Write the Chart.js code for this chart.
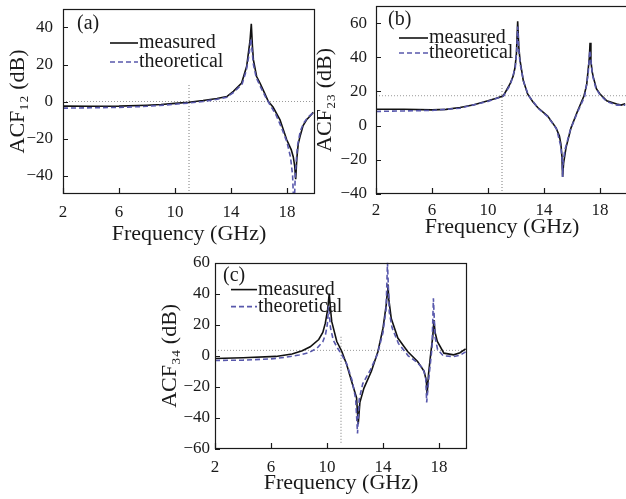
<!DOCTYPE html>
<html>
<head>
<meta charset="utf-8">
<script src="https://cdn.jsdelivr.net/npm/chart.js@4.4.1/dist/chart.umd.min.js"></script>
<style>
  html, body { margin: 0; padding: 0; background: #fff; overflow: hidden; }
  #wrap { position: relative; width: 626px; height: 499px; overflow: hidden; }
  #wrap canvas { position: absolute; }
</style>
</head>
<body>
<div id="wrap">
  <canvas id="chart-a" width="320" height="250" style="left:0;top:0;width:320px;height:250px"></canvas>
  <canvas id="chart-b" width="320" height="250" style="left:310px;top:0;width:320px;height:250px"></canvas>
  <canvas id="chart-c" width="325" height="249" style="left:155px;top:250px;width:325px;height:249px"></canvas>
</div>
<script>
/* ACF 曲线：三个面板 (a)(b)(c)，实测 vs 理论 */

var xTicks = [2, 6, 10, 14, 18];
var aYTicks = [-40, -20, 0, 20, 40];
var bYTicks = [-40, -20, 0, 20, 40, 60];
var cYTicks = [-60, -40, -20, 0, 20, 40, 60];
var seriesNames = ['measured', 'theoretical'];

// (a) ACF12
var aMeasF  = [2, 4, 6, 8, 9, 10, 11, 12, 13, 13.7, 14.17, 14.76, 15.12, 15.36, 15.45, 15.53, 15.6, 15.83, 16.07, 16.4, 16.67, 17.0, 17.5, 17.98, 18.3, 18.45, 18.55, 18.62, 18.7, 18.8, 18.93, 19.15, 19.4, 19.65, 19.88];
var aMeasDb = [-2.5, -2.6, -2.5, -2.0, -1.6, -1.0, -0.4, 0.5, 1.6, 2.7, 5.5, 10, 19, 33, 42, 30, 22.5, 13.5, 10, 4.5, 0, -3, -9.9, -20.7, -26, -30, -35, -42, -31, -23, -18.9, -13, -9.9, -7.8, -5.9];
var aTheoF  = [2, 4, 6, 8, 10, 11, 12, 13, 13.7, 14.2, 14.8, 15.1, 15.3, 15.42, 15.5, 15.6, 15.8, 16.1, 16.5, 16.8, 17.2, 17.6, 18.0, 18.25, 18.4, 18.5, 18.6, 18.75, 18.95, 19.2, 19.5, 19.88];
var aTheoDb = [-3.6, -3.4, -3.2, -2.6, -1.5, -0.8, 0, 1.2, 2.3, 5, 9.5, 17, 26, 34, 28, 20, 13, 8, 2, -2, -7, -14, -22, -30, -40, -60, -38, -24, -16, -11.5, -8.5, -6];
var aLevelF = [2, 20],  aLevelDb = [0, 0];
var aGuideF = [11, 11], aGuideDb = [-50, 10];

// (b) ACF23
var bMeasF  = [2, 4, 6, 7, 8, 9, 10, 10.6, 11.1, 11.57, 11.8, 11.93, 12.03, 12.12, 12.2, 12.29, 12.52, 12.83, 13.2, 13.55, 14.26, 14.86, 15.1, 15.21, 15.28, 15.33, 15.4, 15.57, 15.93, 16.4, 16.86, 17.05, 17.17, 17.24, 17.29, 17.35, 17.43, 17.52, 17.75, 18.0, 18.48, 19.19, 19.5, 19.8];
var bMeasDb = [9.6, 9.6, 9.2, 9.5, 10.6, 12.2, 14.5, 16, 17.5, 24.4, 29, 34, 42, 61, 46, 38, 26.4, 18.5, 14, 10.6, 5.6, -1.3, -6, -11, -18, -30, -22, -13, -1.3, 8.6, 17.5, 24, 34, 40, 48.5, 38, 32, 28.4, 21.5, 18.5, 14.5, 12.6, 12.0, 12.8];
var bTheoF  = [2, 4, 6, 8, 10, 11.1, 11.6, 11.95, 12.05, 12.12, 12.2, 12.3, 12.55, 12.9, 13.6, 14.3, 14.9, 15.2, 15.3, 15.33, 15.37, 15.5, 15.9, 16.4, 16.9, 17.15, 17.27, 17.33, 17.45, 17.7, 18.0, 18.5, 19.2, 19.8];
var bTheoDb = [8.3, 8.6, 8.9, 10.2, 14.2, 17.3, 24, 34, 44, 58, 44, 36, 25.5, 17.5, 10, 5, -2, -12, -20, -30, -21, -14, -2, 8, 17, 30, 44, 40, 30, 22, 18, 14, 12, 12];
var bLevelF = [2, 20],  bLevelDb = [17.5, 17.5];
var bGuideF = [11, 11], bGuideDb = [-40, 25];

// (c) ACF34
var cMeasF  = [2, 4, 6.35, 7.5, 8.23, 8.8, 9.41, 9.7, 9.88, 10.05, 10.16, 10.25, 10.34, 10.7, 11.06, 11.41, 11.76, 12.11, 12.23, 12.35, 12.64, 13.17, 13.64, 14.0, 14.23, 14.3, 14.35, 14.42, 14.59, 15.06, 15.76, 16.47, 16.94, 17.1, 17.15, 17.25, 17.4, 17.55, 17.64, 17.72, 17.88, 18.35, 19.05, 19.5, 19.9];
var cMeasDb = [-1.7, -1.3, -0.4, 1.2, 3.2, 5.8, 10.5, 15, 21, 30, 40, 30, 22, 9.2, 2.8, -5.8, -16.5, -27, -44, -30, -20.8, -10, 2.8, 17.8, 32.8, 40, 46, 36, 24, 11.4, 2.8, -3.7, -10, -16.5, -25, -12, 0.6, 12, 23, 15, 9.2, 1.7, 0.6, 2.0, 4.5];
var cTheoF  = [2, 4, 6, 7, 8, 8.7, 9.3, 9.7, 9.9, 10.02, 10.12, 10.25, 10.45, 10.75, 11.0, 11.4, 11.8, 12.05, 12.18, 12.3, 12.55, 13.1, 13.6, 14.0, 14.22, 14.32, 14.45, 14.65, 15.1, 15.8, 16.4, 16.85, 17.05, 17.12, 17.3, 17.5, 17.6, 17.72, 17.9, 18.3, 19.0, 19.5, 19.9];
var cTheoDb = [-3, -2.8, -2, -1, 0.5, 2, 5, 9, 14, 20, 32, 18, 10, 5, 1.5, -5, -16, -28, -50, -28, -18, -9, 1, 15, 30, 60, 28, 18, 8, 0, -4, -8, -14, -30, -12, 5, 37, 12, 4, 0, -0.5, 0.3, 2.5];
var cLevelF = [2, 20],  cLevelDb = [3.5, 3.5];
var cGuideF = [11, 11], cGuideDb = [-56, 13];

var SERIF = '"Liberation Serif", "Times New Roman", serif';

function pairs(xs, ys) {
  return xs.map(function (x, i) { return { x: x, y: ys[i] }; });
}

function minusFmt(v) {
  return v < 0 ? '\u2212' + Math.abs(v) : String(v);
}

// 边框、内向刻度、面板标号和图例（画在绘图区内）
var panelDeco = {
  id: 'panelDeco',
  afterDatasetsDraw: function (chart, args, opts) {
    var ctx = chart.ctx, a = chart.chartArea;
    var xs = chart.scales.x, ys = chart.scales.y;
    ctx.save();
    ctx.strokeStyle = '#1a1a1a';
    ctx.lineWidth = 1.2;
    ctx.setLineDash([]);
    ctx.beginPath();
    xs.ticks.forEach(function (t) {
      var px = Math.round(xs.getPixelForValue(t.value)) + 0.5;
      ctx.moveTo(px, a.bottom);
      ctx.lineTo(px, a.bottom - 6);
    });
    ys.ticks.forEach(function (t) {
      var py = Math.round(ys.getPixelForValue(t.value)) + 0.5;
      ctx.moveTo(a.left, py);
      ctx.lineTo(a.left + 5, py);
    });
    ctx.stroke();
    ctx.strokeRect(Math.round(a.left) + 0.5, Math.round(a.top) + 0.5,
      Math.round(a.right - a.left) - 1, Math.round(a.bottom - a.top) - 1);

    ctx.fillStyle = '#1a1a1a';
    ctx.font = '20px ' + SERIF;
    ctx.textBaseline = 'middle';
    ctx.textAlign = 'left';
    ctx.fillText(opts.label, a.left + opts.labelPos[0], a.top + opts.labelPos[1]);

    chart.data.datasets.forEach(function (ds) {
      if (ds.legendRow === undefined) return;
      var y = a.top + opts.rows[ds.legendRow];
      ctx.strokeStyle = ds.borderColor;
      ctx.lineWidth = ds.borderWidth;
      ctx.setLineDash(ds.borderDash || []);
      ctx.beginPath();
      ctx.moveTo(a.left + opts.sample[0], y);
      ctx.lineTo(a.left + opts.sample[1], y);
      ctx.stroke();
      ctx.fillText(ds.label, a.left + opts.sample[1] + 1, y);
    });
    ctx.restore();
  }
};

function makePanel(id, p) {
  var datasets = [
    { label: seriesNames[0], data: pairs(p.measF, p.measDb), borderColor: '#111111', borderWidth: 1.6, order: 1, legendRow: 0 },
    { label: seriesNames[1], data: pairs(p.theoF, p.theoDb), borderColor: '#5858ac', borderWidth: 1.6, borderDash: [5, 3], order: 0, legendRow: 1 },
    { label: 'level', data: pairs(p.levelF, p.levelDb), borderColor: '#9a9a9a', borderWidth: 1, borderDash: [1, 2], order: 2 },
    { label: 'guide', data: pairs(p.guideF, p.guideDb), borderColor: '#7a7a7a', borderWidth: 1, borderDash: [1, 2], order: 2 }
  ];
  datasets.forEach(function (d) { d.pointRadius = 0; d.tension = 0; d.fill = false; });

  return new Chart(document.getElementById(id), {
    type: 'line',
    data: { datasets: datasets },
    options: {
      responsive: false,
      animation: false,
      events: [],
      layout: { padding: { left: 0, top: p.padTop, right: p.padRight, bottom: 0 } },
      plugins: {
        legend: { display: false },
        tooltip: { enabled: false },
        panelDeco: p.deco
      },
      scales: {
        x: {
          type: 'linear', min: 2, max: 20,
          afterBuildTicks: function (s) { s.ticks = xTicks.map(function (v) { return { value: v }; }); },
          afterFit: function (s) { s.height = p.xAxisH; s.paddingLeft = 0; s.paddingRight = 0; },
          grid: { display: false, drawTicks: false },
          border: { display: false },
          ticks: { padding: p.xTickPad, color: '#1a1a1a', font: { family: SERIF, size: 17 }, maxRotation: 0, autoSkip: false },
          title: { display: true, text: 'Frequency (GHz)', color: '#1a1a1a', font: { family: SERIF, size: 22 }, padding: { top: 0, bottom: p.xTitlePad } }
        },
        y: {
          type: 'linear', min: p.yMin, max: p.yMax,
          afterBuildTicks: function (s) { s.ticks = p.yTicks.map(function (v) { return { value: v }; }); },
          afterFit: function (s) { s.width = p.yAxisW; s.paddingTop = 0; s.paddingBottom = 0; },
          grid: { display: false, drawTicks: false },
          border: { display: false },
          ticks: { padding: p.yTickPad, color: '#1a1a1a', font: { family: SERIF, size: 17 }, callback: minusFmt },
          title: { display: true, text: p.yTitle, color: '#1a1a1a', font: { family: SERIF, size: 22 }, padding: { top: p.yTitlePad, bottom: 0 } }
        }
      }
    },
    plugins: [panelDeco]
  });
}

makePanel('chart-a', {
  measF: aMeasF, measDb: aMeasDb, theoF: aTheoF, theoDb: aTheoDb,
  levelF: aLevelF, levelDb: aLevelDb, guideF: aGuideF, guideDb: aGuideDb,
  yMin: -50, yMax: 50, yTicks: aYTicks, yTitle: 'ACF\u2081\u2082 (dB)',
  padTop: 9, padRight: 5, xAxisH: 56, yAxisW: 63,
  xTickPad: 8, yTickPad: 10, xTitlePad: 3, yTitlePad: 5,
  deco: { label: '(a)', labelPos: [14, 15], sample: [47, 75], rows: [34, 53] }
});

makePanel('chart-b', {
  measF: bMeasF, measDb: bMeasDb, theoF: bTheoF, theoDb: bTheoDb,
  levelF: bLevelF, levelDb: bLevelDb, guideF: bGuideF, guideDb: bGuideDb,
  yMin: -40, yMax: 70, yTicks: bYTicks, yTitle: 'ACF\u2082\u2083 (dB)',
  padTop: 6, padRight: 2, xAxisH: 56, yAxisW: 66,
  xTickPad: 6, yTickPad: 9, xTitlePad: 10, yTitlePad: 2,
  deco: { label: '(b)', labelPos: [12, 14], sample: [23, 52], rows: [32, 47] }
});

makePanel('chart-c', {
  measF: cMeasF, measDb: cMeasDb, theoF: cTheoF, theoDb: cTheoDb,
  levelF: cLevelF, levelDb: cLevelDb, guideF: cGuideF, guideDb: cGuideDb,
  yMin: -60, yMax: 60, yTicks: cYTicks, yTitle: 'ACF\u2083\u2084 (dB)',
  padTop: 12.6, padRight: 13, xAxisH: 50, yAxisW: 60,
  xTickPad: 8, yTickPad: 5, xTitlePad: 3, yTitlePad: 2,
  deco: { label: '(c)', labelPos: [8, 13], sample: [16, 42], rows: [27, 44] }
});
</script>
</body>
</html>
